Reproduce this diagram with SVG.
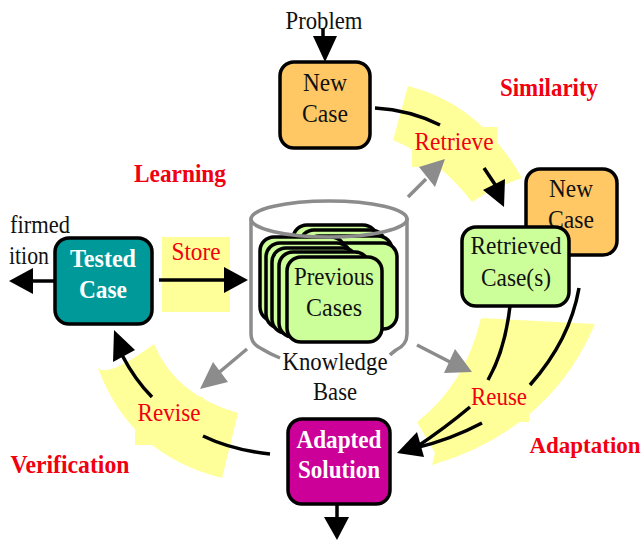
<svg xmlns="http://www.w3.org/2000/svg" width="643" height="540" viewBox="0 0 643 540">
<style>
text{font-family:"Liberation Serif","Times New Roman",serif;font-size:25.5px;text-anchor:middle;fill:#111}
.r{fill:#f00010}
.b{font-weight:bold}
.w{fill:#fff;font-weight:bold}
.box{stroke:#000;stroke-width:3.5}
.yl{fill:#ffff99}
.k{fill:none;stroke:#000;stroke-width:3.5;stroke-linecap:butt}
.kh{fill:#000}
.g{fill:none;stroke:#8c8c8c;stroke-width:3.5}
.gh{fill:#8c8c8c}
.card{fill:#ccff99;stroke:#000;stroke-width:3.5}
</style>
<g id="highlights">
<path class="yl" d="M408 86Q480 104 522 178L506 184Q490 190 472 202Q440 160 393 140Z"/>
<rect class="yl" x="412" y="127" width="85" height="40"/>
<path class="yl" d="M481 318L595 324Q550 430 432 465L435 453L417 422Q465 385 481 318Z"/>
<rect class="yl" x="460" y="380" width="69" height="42"/>
<path class="yl" d="M154 344Q175 395 238 413L222 478Q130 455 98 368Q108 378 154 344Z"/>
<rect class="yl" x="135" y="397" width="68" height="48"/>
<rect class="yl" x="162" y="237" width="68" height="75"/>
</g>
<g id="connectors">
<path class="k" d="M323 28V37"/>
<path class="kh" d="M313 36H337L325 62Z"/>
<path class="k" d="M375 108Q410 110 440 125"/>
<path class="k" d="M484 168L496 186"/>
<path class="kh" d="M483 190L505 179L504 207Z"/>
<path class="k" d="M510 306Q505 350 488 380"/>
<path class="k" d="M579 288Q570 340 530 385"/>
<path class="k" d="M470 407Q445 428 415 448"/>
<path class="k" d="M482 423Q450 440 415 448"/>
<path class="kh" d="M417 432L397 453L424 457Z"/>
<path class="k" d="M337 504V518"/>
<path class="kh" d="M324 517H349L337 540Z"/>
<path class="k" d="M270 454Q232 450 203 436"/>
<path class="k" d="M152 397Q135 380 122 355"/>
<path class="kh" d="M114 330L135 350L113 362Z"/>
<path class="k" d="M159 280H226"/>
<path class="kh" d="M224 267L248 280L224 293Z"/>
<path class="k" d="M55 281H31"/>
<path class="kh" d="M33 268L9 281L33 294Z"/>
<path class="g" d="M408 197L426 179"/>
<path class="gh" d="M419 167L445 159L435 187Z"/>
<path class="g" d="M417 345L452 363"/>
<path class="gh" d="M455 349L472 372L444 373Z"/>
<path class="g" d="M247 349L216 375"/>
<path class="gh" d="M213 362L228 382L200 389Z"/>
</g>
<g id="knowledge-base">
<path class="g" d="M251 218V334Q251 344 262 349Q270 354 280 358M407 218V334Q407 345 396 350Q392 353 390 355"/>
<rect class="card" x="293" y="225" width="84" height="70" rx="14"/>
<rect class="card" x="300" y="230" width="85" height="80" rx="14"/>
<rect class="card" x="305" y="236" width="87" height="85" rx="14"/>
<rect class="card" x="310" y="243" width="87" height="86" rx="14"/>
<rect class="card" x="260" y="237" width="85" height="84" rx="14"/>
<rect class="card" x="266" y="243" width="85" height="85" rx="14"/>
<rect class="card" x="272" y="248" width="85" height="85" rx="14"/>
<rect class="card" x="279" y="252" width="90" height="85" rx="14"/>
<rect class="card" x="287" y="257" width="95" height="85" rx="14"/>
<ellipse class="g" cx="329" cy="219" rx="78" ry="18"/>
<text x="334" y="285" textLength="80" lengthAdjust="spacingAndGlyphs">Previous</text>
<text x="334" y="316" textLength="56" lengthAdjust="spacingAndGlyphs">Cases</text>
<text x="335" y="370" textLength="105" lengthAdjust="spacingAndGlyphs">Knowledge</text>
<text x="335" y="400" textLength="44" lengthAdjust="spacingAndGlyphs">Base</text>
</g>
<g id="new-case-top">
<rect class="box" x="280" y="62" width="90" height="86" rx="14" fill="#ffc864"/>
<text x="325" y="91" textLength="44" lengthAdjust="spacingAndGlyphs">New</text>
<text x="325" y="122" textLength="46" lengthAdjust="spacingAndGlyphs">Case</text>
</g>
<g id="new-case-back">
<rect class="box" x="526" y="169" width="91" height="86" rx="14" fill="#ffc864"/>
<text x="571" y="197" textLength="44" lengthAdjust="spacingAndGlyphs">New</text>
<text x="571" y="228" textLength="46" lengthAdjust="spacingAndGlyphs">Case</text>
</g>
<g id="retrieved-case">
<rect class="box" x="462" y="227" width="107" height="79" rx="14" fill="#ccff99"/>
<text x="516" y="254" textLength="91" lengthAdjust="spacingAndGlyphs">Retrieved</text>
<text x="516" y="286" textLength="70" lengthAdjust="spacingAndGlyphs">Case(s)</text>
</g>
<g id="adapted-solution">
<rect class="box" x="288" y="419" width="102" height="85" rx="14" fill="#cc0099"/>
<text class="w" x="339" y="448" textLength="85" lengthAdjust="spacingAndGlyphs">Adapted</text>
<text class="w" x="339" y="478" textLength="82" lengthAdjust="spacingAndGlyphs">Solution</text>
</g>
<g id="tested-case">
<rect class="box" x="55" y="238" width="97" height="86" rx="14" fill="#009999"/>
<text class="w" x="103" y="267" textLength="66" lengthAdjust="spacingAndGlyphs">Tested</text>
<text class="w" x="103" y="298" textLength="48" lengthAdjust="spacingAndGlyphs">Case</text>
</g>
<g id="labels">
<text x="324" y="29" textLength="77" lengthAdjust="spacingAndGlyphs">Problem</text>
<text x="40" y="233" textLength="60" lengthAdjust="spacingAndGlyphs">firmed</text>
<text x="29" y="264" textLength="40" lengthAdjust="spacingAndGlyphs">ition</text>
<text class="r" x="454" y="150" textLength="79" lengthAdjust="spacingAndGlyphs">Retrieve</text>
<text class="r" x="196" y="260" textLength="49" lengthAdjust="spacingAndGlyphs">Store</text>
<text class="r" x="499" y="405" textLength="56" lengthAdjust="spacingAndGlyphs">Reuse</text>
<text class="r" x="169" y="421" textLength="63" lengthAdjust="spacingAndGlyphs">Revise</text>
<text class="r b" x="549" y="96" textLength="98" lengthAdjust="spacingAndGlyphs">Similarity</text>
<text class="r b" x="180" y="182" textLength="92" lengthAdjust="spacingAndGlyphs">Learning</text>
<text class="r b" x="585" y="453" style="font-size:23px">Adaptation</text>
<text class="r b" x="70" y="473" textLength="119" lengthAdjust="spacingAndGlyphs">Verification</text>
</g>
</svg>
